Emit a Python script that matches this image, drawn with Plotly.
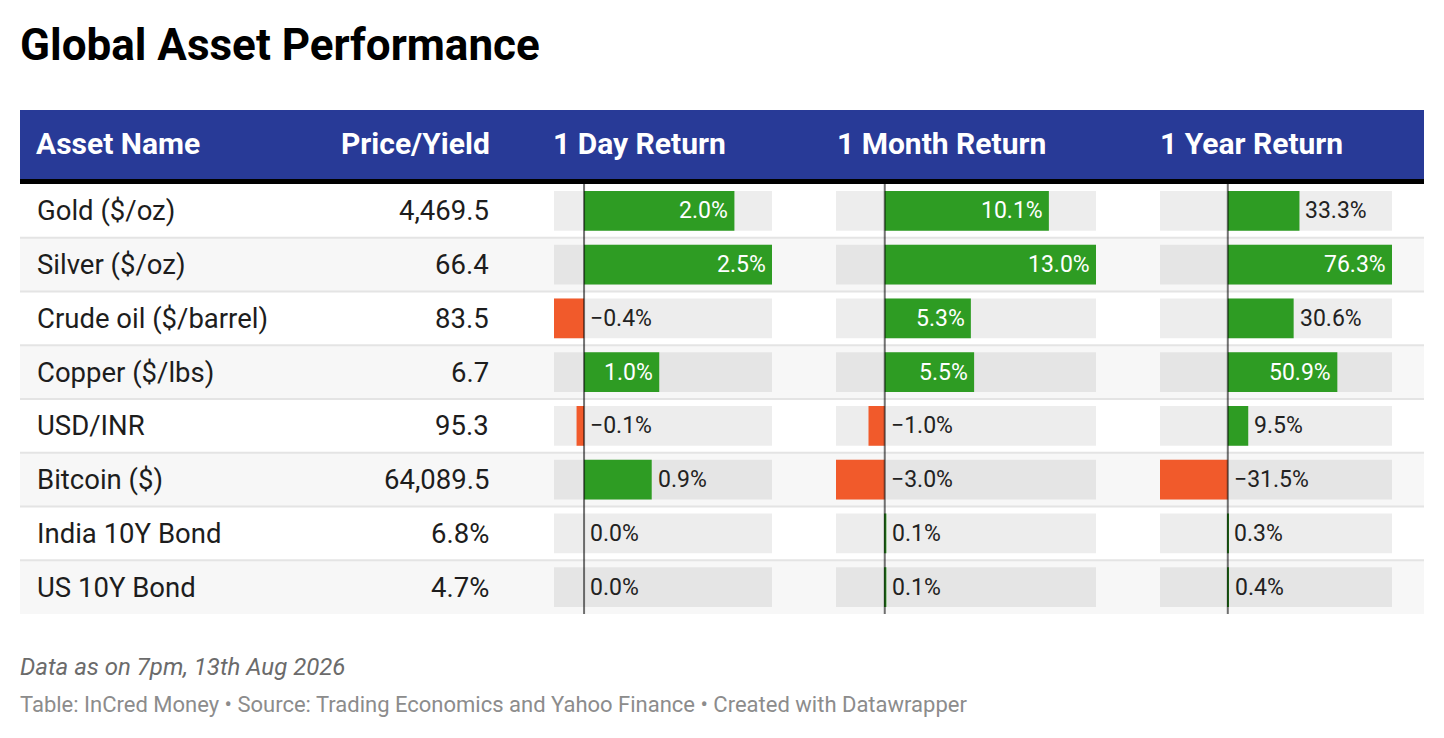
import plotly.graph_objects as go

# table data
assets = ["Gold ($/oz)", "Silver ($/oz)", "Crude oil ($/barrel)", "Copper ($/lbs)",
          "USD/INR", "Bitcoin ($)", "India 10Y Bond", "US 10Y Bond"]
prices = ["4,469.5", "66.4", "83.5", "6.7", "95.3", "64,089.5", "6.8%", "4.7%"]
day_ret = [2.0, 2.5, -0.4, 1.0, -0.1, 0.9, 0.0, 0.0]
month_ret = [10.1, 13.0, 5.3, 5.5, -1.0, -3.0, 0.1, 0.1]
year_ret = [33.3, 76.3, 30.6, 50.9, 9.5, -31.5, 0.3, 0.4]
headers = ["Asset Name", "Price/Yield", "1 Day Return", "1 Month Return", "1 Year Return"]

# the page body adds an 8px margin, so the figure is a bit smaller than the window
OFF = 8
W, H = 1444 - OFF * 2, 738 - OFF * 2
FONT = "Roboto"
GREEN = "#2e9c23"
ORANGE = "#f15a2b"
HEADER_BG = "#283a97"
LABEL_SIZE = 23


def px(x):
    return (x - OFF) / W


def py(y):
    return 1 - (y - OFF) / H


rows = list(range(len(assets)))

# pixel extents of the three bar columns (left, right)
bar_cols = [
    ("x", day_ret, (554, 772)),
    ("x2", month_ret, (836, 1096)),
    ("x3", year_ret, (1160, 1392)),
]

fig = go.Figure()
shapes = []
annotations = []

# striped rows + separators
for i in rows:
    if i % 2 == 1:
        shapes.append(dict(type="rect", xref="paper", yref="y", x0=px(20), x1=px(1424),
                           y0=i - 0.5, y1=i + 0.5, fillcolor="#f7f7f7", line_width=0, layer="below"))
    if i > 0:
        shapes.append(dict(type="line", xref="paper", yref="y", x0=px(20), x1=px(1424),
                           y0=i - 0.5, y1=i - 0.5, line=dict(color="#e4e4e4", width=2), layer="below"))

for axname, vals, (left, right) in bar_cols:
    lo = min(0, min(vals))
    hi = max(0, max(vals))
    scale = (right - left) / (hi - lo)
    axkey = "xaxis" if axname == "x" else "xaxis" + axname[1:]
    fig.update_layout({axkey: dict(domain=[px(left), px(right)], range=[lo, hi], anchor="y",
                                   visible=False, fixedrange=True)})
    # background track
    fig.add_trace(go.Bar(x=[hi - lo] * len(vals), base=[lo] * len(vals), y=rows, orientation="h",
                         width=0.74, marker=dict(color="rgba(0,0,0,0.07)", line_width=0),
                         xaxis=axname, yaxis="y", hoverinfo="skip", showlegend=False))
    # value bars
    fig.add_trace(go.Bar(x=vals, y=rows, orientation="h", width=0.74,
                         marker=dict(color=[GREEN if v >= 0 else ORANGE for v in vals], line_width=0),
                         xaxis=axname, yaxis="y", showlegend=False,
                         hovertemplate="%{x:.1f}%<extra></extra>"))
    # zero line
    shapes.append(dict(type="line", xref=axname, yref="y", x0=0, x1=0, y0=-0.5, y1=len(vals) - 0.5,
                       line=dict(color="rgba(0,0,0,0.55)", width=2), layer="above"))
    # value labels: white inside the bar when it fits, dark beside it otherwise
    for i, v in zip(rows, vals):
        label = f"{abs(v):.1f}%"
        if v < 0:
            label = "\u2212" + label
        lab_w = LABEL_SIZE * (0.562 * sum(c.isdigit() for c in label) + 0.26 + 0.733)
        if v > 0 and v * scale > lab_w + 22:
            annotations.append(dict(xref=axname, yref="y", x=v, y=i, text=label, showarrow=False,
                                    xanchor="right", xshift=-4,
                                    font=dict(family=FONT, size=LABEL_SIZE, color="white")))
        else:
            annotations.append(dict(xref=axname, yref="y", x=max(v, 0), y=i, text=label, showarrow=False,
                                    xanchor="left", xshift=4,
                                    font=dict(family=FONT, size=LABEL_SIZE, color="#222222")))

# header band
shapes.append(dict(type="rect", xref="paper", yref="paper", x0=px(20), x1=px(1424), y0=py(179), y1=py(110),
                   fillcolor=HEADER_BG, line_width=0, layer="below"))
shapes.append(dict(type="rect", xref="paper", yref="paper", x0=px(20), x1=px(1424), y0=py(184), y1=py(179),
                   fillcolor="#000000", line_width=0, layer="below"))

header_pos = [(34, "left"), (492, "right"), (551, "left"), (835, "left"), (1158, "left")]
for text, (hx, anchor) in zip(headers, header_pos):
    annotations.append(dict(xref="paper", yref="paper", x=px(hx), y=py(144), text=f"<b>{text}</b>",
                            showarrow=False, xanchor=anchor, yanchor="middle",
                            font=dict(family=FONT, size=30, color="white")))

# asset names and prices
for i, (name, price) in enumerate(zip(assets, prices)):
    annotations.append(dict(xref="paper", yref="y", x=px(35), y=i, text=name, showarrow=False,
                            xanchor="left", font=dict(family=FONT, size=27.5, color="#1d1d1d")))
    annotations.append(dict(xref="paper", yref="y", x=px(491), y=i, text=price, showarrow=False,
                            xanchor="right", font=dict(family=FONT, size=27.5, color="#1d1d1d")))

# title and footer
annotations.append(dict(xref="paper", yref="paper", x=px(18), y=py(45), text="<b>Global Asset Performance</b>",
                        showarrow=False, xanchor="left", yanchor="middle",
                        font=dict(family=FONT, size=44, color="#000000")))
annotations.append(dict(xref="paper", yref="paper", x=px(18), y=py(667), text="<i>Data as on 7pm, 13th Aug 2026</i>",
                        showarrow=False, xanchor="left", yanchor="middle",
                        font=dict(family=FONT, size=24, color="#6b6b6b")))
annotations.append(dict(xref="paper", yref="paper", x=px(18), y=py(704),
                        text="Table: InCred Money \u2022 Source: Trading Economics and Yahoo Finance \u2022 Created with Datawrapper",
                        showarrow=False, xanchor="left", yanchor="middle",
                        font=dict(family=FONT, size=22, color="#8c8c8c")))

fig.update_layout(
    width=W, height=H,
    margin=dict(l=0, r=0, t=0, b=0),
    paper_bgcolor="white", plot_bgcolor="rgba(0,0,0,0)",
    barmode="overlay",
    yaxis=dict(domain=[py(614), py(184)], range=[len(assets) - 0.5, -0.5], visible=False, fixedrange=True),
    shapes=shapes,
    annotations=annotations,
    showlegend=False,
)

fig.write_html("out.html")
